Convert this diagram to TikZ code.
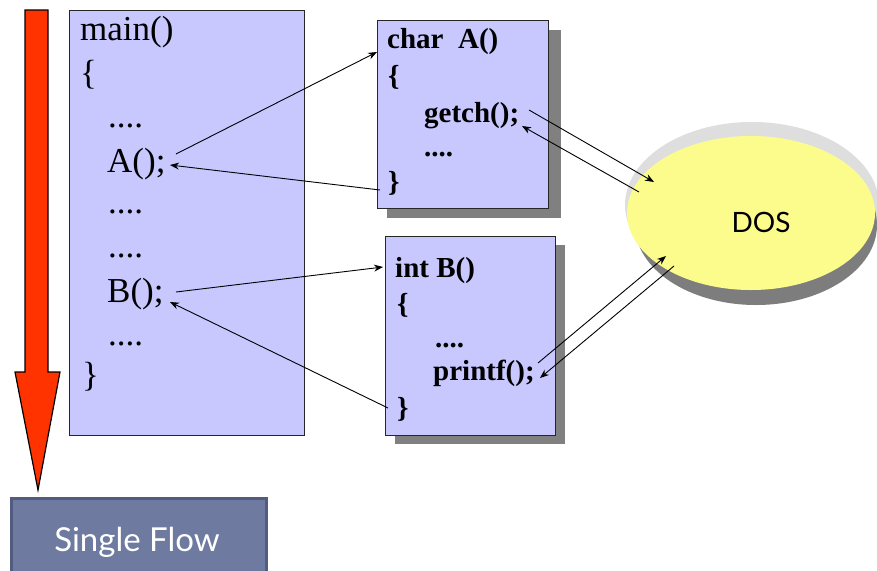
\documentclass[tikz,border=0pt]{standalone}
\usepackage{fontspec}
\setmainfont{Liberation Serif}
\newfontfamily\gill{Lato}
\usetikzlibrary{arrows.meta}
\definecolor{lav}{RGB}{200,200,255}
\definecolor{shad}{RGB}{128,128,128}
\definecolor{redflow}{RGB}{255,51,0}
\definecolor{flowbox}{RGB}{110,122,160}
\definecolor{flowedge}{RGB}{82,92,128}
\definecolor{dosyel}{RGB}{252,252,140}
\definecolor{doslight}{RGB}{222,222,222}
\definecolor{dosdark}{RGB}{125,125,125}
\tikzset{
  codebox/.style={draw=black!85, line width=1.2pt, fill=lav},
  shadowbox/.style={fill=shad, draw=none},
  maintxt/.style={anchor=base west, inner sep=0pt, font=\fontsize{35}{40}\selectfont},
  subtxt/.style={anchor=base west, inner sep=0pt, font=\fontsize{29}{34}\selectfont\bfseries},
  call/.style={line width=0.9pt, -{Stealth[length=9pt,width=7pt]}},
}
\begin{document}
\begin{tikzpicture}[x=1pt,y=-1pt]
\useasboundingbox (0,0) rectangle (877,570);
% red flow arrow
\draw[fill=redflow, line width=1.2pt] (25,10) -- (48,10) -- (48,372) -- (60,372) -- (38,490) -- (15,372) -- (25,372) -- cycle;
% single flow box
\node[draw=flowedge, line width=3pt, fill=flowbox, minimum width=255pt, minimum height=80pt, anchor=north west, inner sep=0pt] (flow) at (10,497) {};
\node[text=white, font=\gill\fontsize{33}{38}\selectfont, anchor=base] (flowtxt) at (137,551) {Single Flow};
% main box
\node[codebox, minimum width=235pt, minimum height=425pt, anchor=north west, inner sep=0pt] (mainbox) at (69,10) {};
\node[maintxt] (m1) at (80,40) {main()};
\node[maintxt] (m2) at (80,84) {\{};
\node[maintxt] (m3) at (108,127) {....};
\node[maintxt] (mA) at (107,172) {A();};
\node[maintxt] (m5) at (108,213) {....};
\node[maintxt] (m6) at (108,257) {....};
\node[maintxt] (mB) at (107,302) {B();};
\node[maintxt] (m8) at (108,345) {....};
\node[maintxt] (m9) at (82,386) {\}};
% box A
\fill[shadowbox] (387,30) rectangle (561,218);
\node[codebox, minimum width=171pt, minimum height=188pt, anchor=north west, inner sep=0pt] (boxA) at (377,20) {};
\node[subtxt] (a1) at (387,48) {char\ \ A()};
\node[subtxt] (a2) at (388,85) {\{};
\node[subtxt] (a3) at (424,122) {getch();};
\node[subtxt] (a4) at (424,156) {....};
\node[subtxt] (a5) at (388,191) {\}};
% box B
\fill[shadowbox] (395,245) rectangle (565,444);
\node[codebox, minimum width=170pt, minimum height=199pt, anchor=north west, inner sep=0pt] (boxB) at (385,236) {};
\node[subtxt] (b1) at (395,277) {int B()};
\node[subtxt] (b2) at (397,313) {\{};
\node[subtxt] (b3) at (435,347) {....};
\node[subtxt] (b4) at (433,380) {printf();};
\node[subtxt] (b5) at (397,417) {\}};
% DOS ellipse
\fill[doslight] (752,205) ellipse [x radius=127, y radius=83];
\fill[dosdark] (756,225) ellipse [x radius=121, y radius=80];
\fill[dosyel] (751,213) ellipse [x radius=124, y radius=77];
\node[font=\gill\fontsize{28}{32}\selectfont, anchor=base] (dos) at (761,232) {DOS};
% connector end points
\coordinate (pA1) at (176,154);
\coordinate (pA2) at (377,52);
\coordinate (pA3) at (380,190);
\coordinate (pA4) at (170,165);
\coordinate (pB1) at (176,292);
\coordinate (pB2) at (383,267);
\coordinate (pB3) at (388,408);
\coordinate (pB4) at (170,302);
\coordinate (g1) at (529,110);
\coordinate (d1) at (654,182);
\coordinate (d2) at (639,192);
\coordinate (g2) at (522,126);
\coordinate (p1) at (538,363);
\coordinate (d3) at (666,256);
\coordinate (d4) at (674,266);
\coordinate (p2) at (540,378);
\draw[call] (pA1) -- (pA2);
\draw[call] (pA3) -- (pA4);
\draw[call] (pB1) -- (pB2);
\draw[call] (pB3) -- (pB4);
\draw[call] (g1) -- (d1);
\draw[call] (d2) -- (g2);
\draw[call] (p1) -- (d3);
\draw[call] (d4) -- (p2);
\end{tikzpicture}
\end{document}
